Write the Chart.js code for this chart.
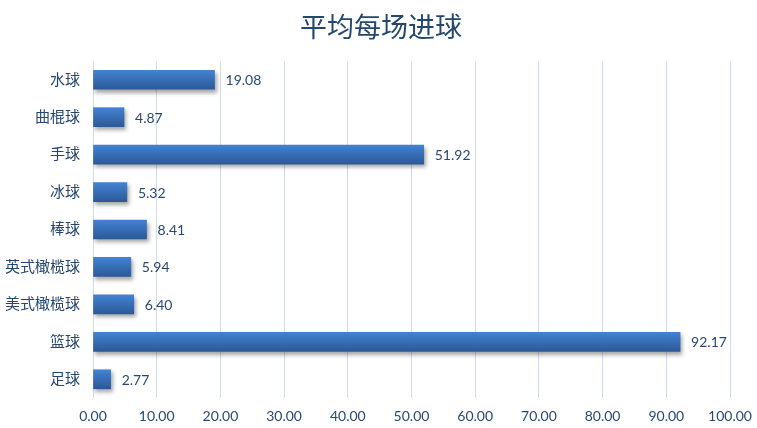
<!DOCTYPE html>
<html><head><meta charset="utf-8">
<script src="https://cdn.jsdelivr.net/npm/chart.js@4"></script>
<style>html,body{margin:0;padding:0;background:#fff}#wrap{width:757px;height:428px}</style>
</head><body><div id="wrap"><canvas id="c"></canvas></div>
<script>
const titleText = '平均每场进球';
const categories = ['水球','曲棍球','手球','冰球','棒球','英式橄榄球','美式橄榄球','篮球','足球'];
const goals = [19.08, 4.87, 51.92, 5.32, 8.41, 5.94, 6.40, 92.17, 2.77];
const xMin = 0, xMax = 100, xStep = 10;

const FONT = "Lato, 'Noto Sans CJK SC', sans-serif";
const BAR_H = 19;

const shadowPlugin = {
  id: 'shadow',
  beforeDatasetDraw(chart){ const c = chart.ctx; c.save(); c.shadowColor='rgba(0,0,0,0.35)'; c.shadowOffsetX=2; c.shadowOffsetY=3; c.shadowBlur=4; },
  afterDatasetDraw(chart){ chart.ctx.restore(); }
};
const labelPlugin = {
  id: 'vlabels',
  afterDatasetsDraw(chart){
    const c = chart.ctx; const meta = chart.getDatasetMeta(0);
    c.save(); c.font = "14px " + FONT; c.fillStyle = '#2a4873'; c.textBaseline='middle'; c.textAlign='left';
    meta.data.forEach((el,i)=>{ c.fillText(goals[i].toFixed(2), el.x + 11, el.y + 1); });
    c.restore();
  }
};
const titlePlugin = {
  id: 'ctitle',
  afterDraw(chart){
    const c = chart.ctx; c.save();
    c.font = "27px 'Noto Sans CJK SC', sans-serif"; c.fillStyle = '#24466f';
    c.textAlign = 'center'; c.textBaseline = 'middle';
    c.fillText(titleText, 381, 27);
    c.restore();
  }
};

new Chart(document.getElementById('c'), {
  type: 'bar',
  data: { labels: categories, datasets: [{
    data: goals,
    barThickness: BAR_H,
    backgroundColor: (ctx) => {
      const chart = ctx.chart; const ys = chart.scales && chart.scales.y;
      if (!ys || !chart.chartArea || ctx.dataIndex === undefined) return '#3a72c0';
      const y = ys.getPixelForValue(ctx.dataIndex);
      const g = chart.ctx.createLinearGradient(0, y - BAR_H/2, 0, y + BAR_H/2);
      g.addColorStop(0, '#4382d3'); g.addColorStop(1, '#2c5997');
      return g;
    },
    borderWidth: 0
  }]},
  options: {
    indexAxis: 'y', responsive: true, maintainAspectRatio: false, animation: false,
    layout: { padding: { left: 0, right: 27, top: 61, bottom: 0 } },
    plugins: { legend: { display: false }, tooltip: { enabled: false }, title: { display: false } },
    scales: {
      x: { min: xMin, max: xMax, ticks: { stepSize: xStep, color: '#2a4873', font: { family: FONT, size: 14 },
             callback: v => Number(v).toFixed(2), padding: 10 },
           grid: { color: '#cddcee', drawTicks: false }, border: { display: false },
           afterFit(s){ s.height = 30; s.paddingRight = 0; s.paddingLeft = 0; } },
      y: { ticks: { color: '#24466f', font: { family: FONT, size: 15 }, padding: 13 },
           grid: { display: false, drawTicks: false }, border: { display: false },
           afterFit(s){ s.width = 93; } }
    }
  },
  plugins: [shadowPlugin, labelPlugin, titlePlugin]
});
</script></body></html>
